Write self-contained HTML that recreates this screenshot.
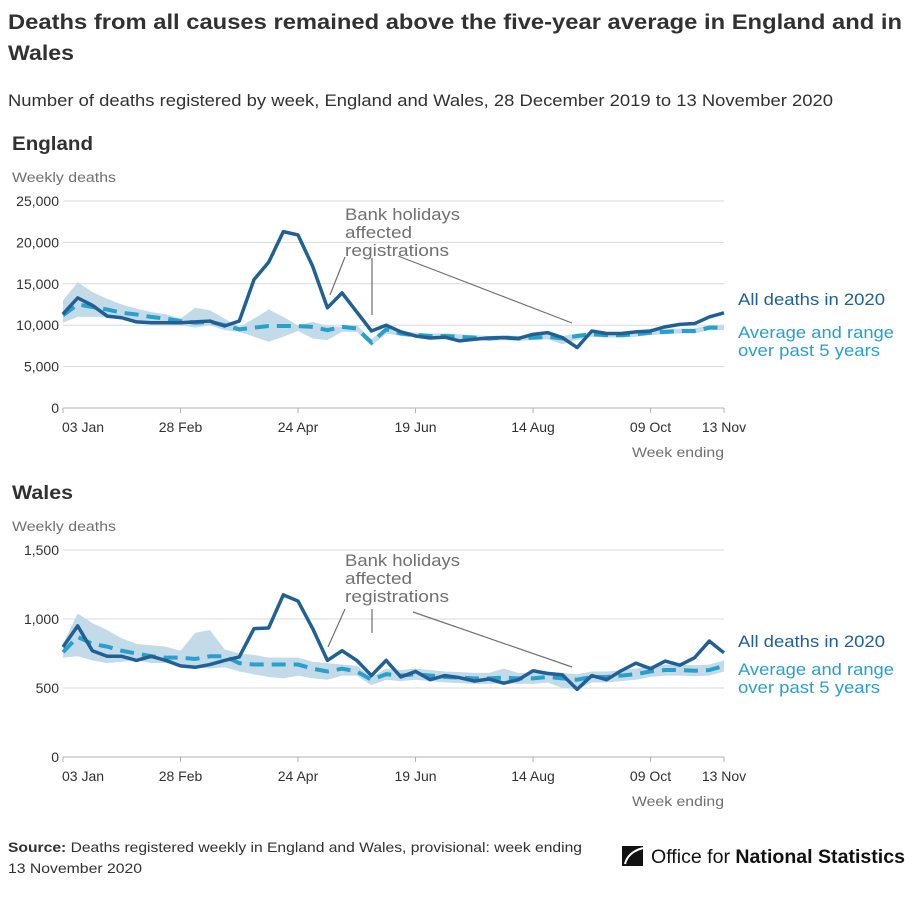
<!DOCTYPE html>
<html><head><meta charset="utf-8"><style>
body{margin:0;background:#fff;width:914px;height:908px;overflow:hidden;font-family:"Liberation Sans",sans-serif;}
svg text{font-family:"Liberation Sans",sans-serif;}
</style></head><body>
<svg id="svg" width="914" height="908" xmlns="http://www.w3.org/2000/svg">
<text x="8" y="29" font-size="21" font-weight="bold" fill="#323132" textLength="894" lengthAdjust="spacingAndGlyphs">Deaths from all causes remained above the five-year average in England and in</text>
<text x="8" y="60" font-size="21" font-weight="bold" fill="#323132" textLength="66" lengthAdjust="spacingAndGlyphs">Wales</text>
<text x="8" y="106" font-size="17" fill="#323132" textLength="825" lengthAdjust="spacingAndGlyphs">Number of deaths registered by week, England and Wales, 28 December 2019 to 13 November 2020</text>
<g id="eng"></g>
<g id="wal"></g>
<text x="8" y="852" font-size="14" fill="#323132" textLength="574" lengthAdjust="spacingAndGlyphs"><tspan font-weight="bold">Source:</tspan> Deaths registered weekly in England and Wales, provisional: week ending</text>
<text x="8" y="873" font-size="14" fill="#323132" textLength="134" lengthAdjust="spacingAndGlyphs">13 November 2020</text>
<g>
<path d="M622 846 L643 846 L643 866 L622 866 Z" fill="#111"/>
<path d="M643 848 Q628 852 625 864" stroke="#fff" stroke-width="2" fill="none"/>
<text x="651" y="863" font-size="19" fill="#111" textLength="254" lengthAdjust="spacingAndGlyphs">Office for <tspan font-weight="bold">National Statistics</tspan></text>
</g>
</svg>
<script>
const xLabels=["03 Jan","28 Feb","24 Apr","19 Jun","14 Aug","09 Oct","13 Nov"];
const xLabelWeeks=[0,8,16,24,32,40,45];
const engAll=[11350,13300,12400,11100,10900,10400,10300,10300,10300,10400,10500,9900,10500,15500,17600,21300,20900,17100,12100,13900,11600,9300,10000,9200,8700,8450,8550,8100,8300,8450,8500,8400,8900,9100,8500,7300,9300,9000,9000,9200,9300,9800,10100,10200,11000,11500];
const engAvg=[11200,12500,12200,11900,11500,11300,11000,10800,10500,10300,10400,10000,9500,9700,9900,9900,9900,9800,9400,9800,9600,7900,9500,9000,8800,8700,8700,8600,8500,8400,8500,8400,8500,8600,8400,8700,8900,8800,8800,8900,9100,9200,9300,9300,9700,9700];
const engHi=[13000,15200,14000,13200,12500,12000,11600,11300,10800,12100,11800,10800,9800,10800,11900,11000,10000,10400,9900,9800,10000,8300,9800,9300,9100,9000,9000,8900,8800,8700,8800,8700,8800,8900,8700,9000,9200,9100,9100,9200,9400,9500,9600,9600,10000,10000];
const engLo=[10300,11000,11000,11000,10800,10500,10300,10100,10000,9700,10000,9400,9200,8600,8000,8600,9300,8400,8200,9200,9200,7500,9000,8700,8500,8400,8400,8300,8200,8100,8200,8100,8200,8300,7700,8200,8600,8500,8500,8600,8800,8900,9000,9000,9400,9400];
const walAll=[797,950,770,730,730,700,730,700,660,650,670,700,725,930,935,1175,1130,930,700,770,700,590,700,580,620,560,590,575,550,565,535,560,625,605,595,490,590,560,625,680,640,695,665,720,840,755];
const walAvg=[760,870,820,800,770,750,730,720,720,710,730,730,680,670,670,670,670,640,620,640,620,560,600,590,600,590,580,575,570,570,575,570,570,580,570,560,580,580,590,600,620,630,630,625,630,660];
const walHi=[820,1040,970,920,860,820,810,800,770,900,920,780,750,740,720,720,720,690,680,670,660,580,640,630,640,630,620,615,610,610,640,610,610,620,610,600,620,620,630,640,660,670,670,665,670,700];
const walLo=[720,730,700,680,690,700,680,680,660,650,640,650,620,600,580,570,590,570,560,590,590,520,560,550,560,550,540,535,530,530,535,530,530,540,500,490,540,540,550,560,580,590,590,585,590,620];
const engTicks=[0,5000,10000,15000,20000,25000];
const walTicks=[0,500,1000,1500];
const NS="http://www.w3.org/2000/svg";
function mk(parent,tag,attrs,txt){const e=document.createElementNS(NS,tag);for(const k in attrs)e.setAttribute(k,attrs[k]);if(txt!==undefined)e.textContent=txt;parent.appendChild(e);return e;}
function draw(g,o){
  const x0=63,x1=724,y0=o.base,y1=o.base-207;
  const X=i=>x0+(x1-x0)*i/45;
  const Y=v=>y0-(y0-y1)*v/o.max;
  mk(g,"text",{x:12,y:o.base-258,"font-size":19,"font-weight":"bold",fill:"#323132",textLength:o.nameLen,lengthAdjust:"spacingAndGlyphs"},o.name);
  const yt=mk(g,"text",{x:12,y:o.base-226,"font-size":14,fill:"#707070",textLength:104,lengthAdjust:"spacingAndGlyphs"},"Weekly deaths");
  
  
  o.ticks.forEach(t=>{
    const l=mk(g,"line",{x1:x0,x2:x1,y1:Y(t),y2:Y(t),stroke:t===0?"#b0b0b0":"#d9d9d9","stroke-width":1});
    
    
    const tx=mk(g,"text",{x:59,y:Y(t)+5,"font-size":14,fill:"#323132","text-anchor":"end"},t.toLocaleString("en-GB"));
    
    
  });
  xLabels.forEach((s,k)=>{
    const w=xLabelWeeks[k];
    const tk=mk(g,"line",{x1:X(w),x2:X(w),y1:y0,y2:y0+5,stroke:"#b0b0b0"});
    
    
    const tx=mk(g,"text",{x:X(w),y:y0+24,"font-size":14,fill:"#323132","text-anchor":k===0?"start":"middle"},s);
    if(k===0)tx.setAttribute("x",X(w)-1);
    
    
  });
  const xt=mk(g,"text",{x:724,y:y0+49,"font-size":14,fill:"#707070","text-anchor":"end",textLength:92,lengthAdjust:"spacingAndGlyphs"},"Week ending");
  
  
  let d="";o.hi.forEach((v,i)=>{d+=(i?"L":"M")+X(i)+" "+Y(v)+" ";});
  for(let i=o.lo.length-1;i>=0;i--)d+="L"+X(i)+" "+Y(o.lo[i])+" ";
  const band=mk(g,"path",{d:d+"Z",fill:"#c3dbe9"});
  
  
  const pts=a=>a.map((v,i)=>X(i)+","+Y(v)).join(" ");
  const av=mk(g,"polyline",{points:pts(o.avg),fill:"none",stroke:"#27a0cc","stroke-width":4,"stroke-dasharray":"14 8"});
  
  
  const al=mk(g,"polyline",{points:pts(o.all),fill:"none",stroke:"#206095","stroke-width":3.5,"stroke-linejoin":"round"});
  
  
  const a=o.ann;
  [["Bank holidays",115],["affected",67],["registrations",104]].forEach((s,k)=>{
    const t=mk(g,"text",{x:345,y:a.ty+k*18,"font-size":17,fill:"#707070",textLength:s[1],lengthAdjust:"spacingAndGlyphs"},s[0]);
    
    
  });
  a.lines.forEach(L=>{
    const l=mk(g,"line",{x1:L[0],y1:L[1],x2:L[2],y2:L[3],stroke:"#707070","stroke-width":1.2});
    
    
  });
  const la=mk(g,"text",{x:738,y:a.lg[0],"font-size":17,fill:"#206095",textLength:147,lengthAdjust:"spacingAndGlyphs"},"All deaths in 2020");
  
  
  const lb=mk(g,"text",{x:738,y:a.lg[1],"font-size":17,fill:"#27a0cc",textLength:156,lengthAdjust:"spacingAndGlyphs"},"Average and range");
  
  
  const lc=mk(g,"text",{x:738,y:a.lg[1]+18,"font-size":17,fill:"#27a0cc",textLength:142,lengthAdjust:"spacingAndGlyphs"},"over past 5 years");
  
  
}
draw(document.getElementById("eng"),{name:"England",nameLen:81,base:408,max:25000,ticks:engTicks,all:engAll,avg:engAvg,hi:engHi,lo:engLo,
  ann:{ty:220,lines:[[345,257,330,295],[372,258,372,315],[398,256,572,323]],lg:[305,338]}});
draw(document.getElementById("wal"),{name:"Wales",nameLen:61,base:757,max:1500,ticks:walTicks,all:walAll,avg:walAvg,hi:walHi,lo:walLo,
  ann:{ty:566,lines:[[345,609,328,647],[372,609,372,633],[413,612,572,667]],lg:[647,675]}});
</script>
</body></html>
